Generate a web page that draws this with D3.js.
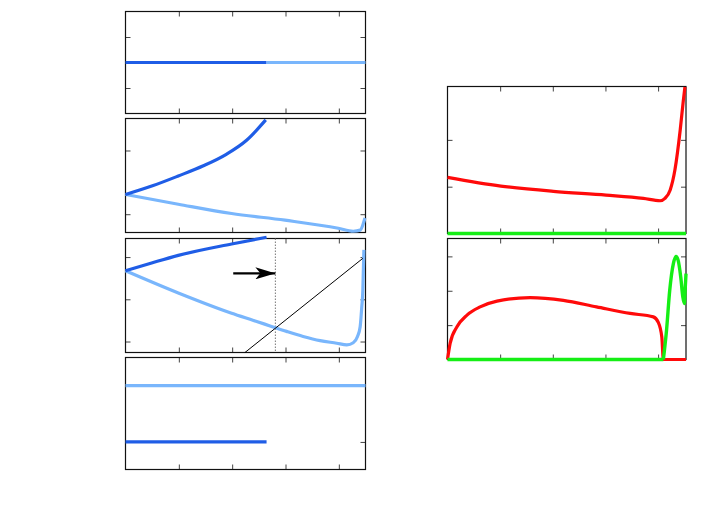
<!DOCTYPE html>
<html>
<head>
<meta charset="utf-8">
<script src="https://cdn.jsdelivr.net/npm/d3@7"></script>
<style>body{margin:0;background:#fff}</style>
</head>
<body>
<svg id="chart" width="706" height="519"></svg>
<script>
//Data (x, y)
const xTicks = [1, 2, 3, 4];

// left column, panel 1..4
const p1Dark = [[0, 0], [2.645, 0]];
const p1Light = [[2.645, 0], [4.5, 0]];

const p2Dark = [[0, 0.31], [0.52, 0.45], [0.99, 0.6], [1.46, 0.76], [1.89, 0.94], [2.27, 1.16], [2.63, 1.48]];
const p2Light = [[0, 0.31], [0.99, 0.157], [1.99, 0.011], [2.99, -0.094], [3.99, -0.22], [4.27, -0.267], [4.40, -0.25], [4.45, -0.17], [4.49, -0.06]];

const p3Dark = [[0, 0.676], [0.49, 0.86], [0.99, 1.04], [1.99, 1.31], [2.645, 1.47]];
const p3Light = [[0, 0.676], [0.99, 0.15], [1.99, -0.33], [2.4, -0.5], [2.71, -0.63], [3.02, -0.76], [3.33, -0.88], [3.65, -0.98], [3.96, -1.04], [4.15, -1.08], [4.27, -1.03], [4.35, -0.88], [4.40, -0.65], [4.43, -0.18], [4.45, 0.2], [4.47, 1.17]];
const p3Tangent = [[2.24, -1.26], [4.45, 0.97]];
const p3MarkerX = 2.81;
const p3Arrow = [[2.02, 0.615], [2.81, 0.615]];

const p4Light = [[0, 1], [4.5, 1]];
const p4Dark = [[0, 0], [2.645, 0]];

// right column
const r1Red = [[0, 1.2], [1.013, 1.013], [2.01, 0.90], [3.01, 0.82], [3.72, 0.75], [4.04, 0.70], [4.13, 0.75], [4.23, 0.93], [4.32, 1.36], [4.42, 2.21], [4.48, 2.85], [4.51, 3.13]];
const r1Green = [[0, 0], [4.53, 0]];

const r2Red = [[0, 0], [0.05, 0.47], [0.18, 0.95], [0.37, 1.29], [0.62, 1.53], [0.94, 1.70], [1.57, 1.80], [2.20, 1.72], [2.83, 1.53], [3.47, 1.34], [3.91, 1.24], [4.00, 1.09], [4.07, 0.66], [4.10, 0], [4.53, 0]];
const r2Green = [[0, 0], [4.10, 0], [4.16, 0.85], [4.22, 2.0], [4.29, 2.79], [4.34, 3.0], [4.38, 2.89], [4.43, 2.4], [4.47, 1.82], [4.50, 1.63], [4.51, 1.92], [4.53, 2.5]];

//Colours
const darkBlue = '#1f5de6';
const lightBlue = '#79b6fc';
const red = '#ff0a0a';
const green = '#15ee15';

const svg = d3.select('#chart');

svg.append('defs').append('marker')
   .attr('id', 'arrowhead')
   .attr('markerUnits', 'userSpaceOnUse')
   .attr('markerWidth', 20).attr('markerHeight', 12)
   .attr('refX', 20).attr('refY', 6)
   .attr('orient', 'auto')
   .append('path')
   .attr('d', 'M0,0 L20,6 L0,12 L5,6 Z')
   .attr('fill', '#000');

//Panel setup: frame, mirrored inward ticks
function setupPanel(box, xDomain, yDomain, yTicks){
    const x = d3.scaleLinear().domain(xDomain).range([box.left, box.right]);
    const y = d3.scaleLinear().domain(yDomain).range([box.bottom, box.top]);
    const g = svg.append('g');

    const axes = [
        [d3.axisBottom(x).tickValues(xTicks), `translate(0,${box.bottom})`],
        [d3.axisTop(x).tickValues(xTicks), `translate(0,${box.top})`],
        [d3.axisLeft(y).tickValues(yTicks), `translate(${box.left},0)`],
        [d3.axisRight(y).tickValues(yTicks), `translate(${box.right},0)`]
    ];
    axes.forEach(([axis, tr]) => {
        const a = g.append('g').attr('transform', tr)
                   .call(axis.tickSize(-5).tickFormat(''));
        a.select('.domain').remove();
        a.selectAll('line').attr('stroke', '#444').attr('stroke-width', 1);
    });

    g.append('rect')
     .attr('x', box.left).attr('y', box.top)
     .attr('width', box.right - box.left).attr('height', box.bottom - box.top)
     .attr('fill', 'none').attr('stroke', '#111').attr('stroke-width', 1.2);

    const line = d3.line().x(d => x(d[0])).y(d => y(d[1])).curve(d3.curveMonotoneX);
    const draw = (data, color, width) =>
        g.append('path').datum(data).attr('d', line)
         .attr('fill', 'none').attr('stroke', color)
         .attr('stroke-width', width).attr('stroke-linejoin', 'round');
    return {x, y, g, draw};
}

const leftX = [0, 4.5];
const rightX = [0, 4.53];

const p1 = setupPanel({left: 125.5, right: 365.5, top: 11.5, bottom: 113.5}, leftX, [-2, 2], [-1, 0, 1]);
p1.draw(p1Dark, darkBlue, 3.2);
p1.draw(p1Light, lightBlue, 3.2);

const p2 = setupPanel({left: 125.5, right: 365.5, top: 118.5, bottom: 232.5}, leftX, [-0.287, 1.502], [0, 1]);
p2.draw(p2Light, lightBlue, 3.2);
p2.draw(p2Dark, darkBlue, 3.2);

const p3 = setupPanel({left: 125.5, right: 365.5, top: 238.5, bottom: 352.5}, leftX, [-1.26, 1.44], [-1, 0, 1]);
p3.g.append('line')
   .attr('x1', p3.x(p3MarkerX)).attr('x2', p3.x(p3MarkerX))
   .attr('y1', p3.y.range()[1]).attr('y2', p3.y.range()[0])
   .attr('stroke', '#777').attr('stroke-width', 1).attr('stroke-dasharray', '1.5,1.5');
p3.draw(p3Light, lightBlue, 3.2);
p3.draw(p3Dark, darkBlue, 3.2);
p3.g.append('path').datum(p3Tangent)
   .attr('d', d3.line().x(d => p3.x(d[0])).y(d => p3.y(d[1])))
   .attr('stroke', '#000').attr('stroke-width', 1).attr('fill', 'none');
p3.g.append('line')
   .attr('x1', p3.x(p3Arrow[0][0])).attr('y1', p3.y(p3Arrow[0][1]))
   .attr('x2', p3.x(p3Arrow[1][0])).attr('y2', p3.y(p3Arrow[1][1]))
   .attr('stroke', '#000').attr('stroke-width', 2.2)
   .attr('marker-end', 'url(#arrowhead)');

const p4 = setupPanel({left: 125.5, right: 365.5, top: 357.5, bottom: 469.5}, leftX, [-0.49, 1.5], [0, 1]);
p4.draw(p4Light, lightBlue, 3.2);
p4.draw(p4Dark, darkBlue, 3.2);

const r1 = setupPanel({left: 447.5, right: 686, top: 86.5, bottom: 233.5}, rightX, [0, 3.14], [1, 2]);
r1.draw(r1Red, red, 3.2);
r1.draw(r1Green, green, 3.4);

const r2 = setupPanel({left: 447.5, right: 686, top: 238.5, bottom: 359.5}, rightX, [0, 3.52], [1, 2, 3]);
r2.draw(r2Red, red, 3.2);
r2.draw(r2Green.slice(0, 2), green, 3.4);
r2.draw(r2Green.slice(1), green, 3.4);
</script>
</body>
</html>
